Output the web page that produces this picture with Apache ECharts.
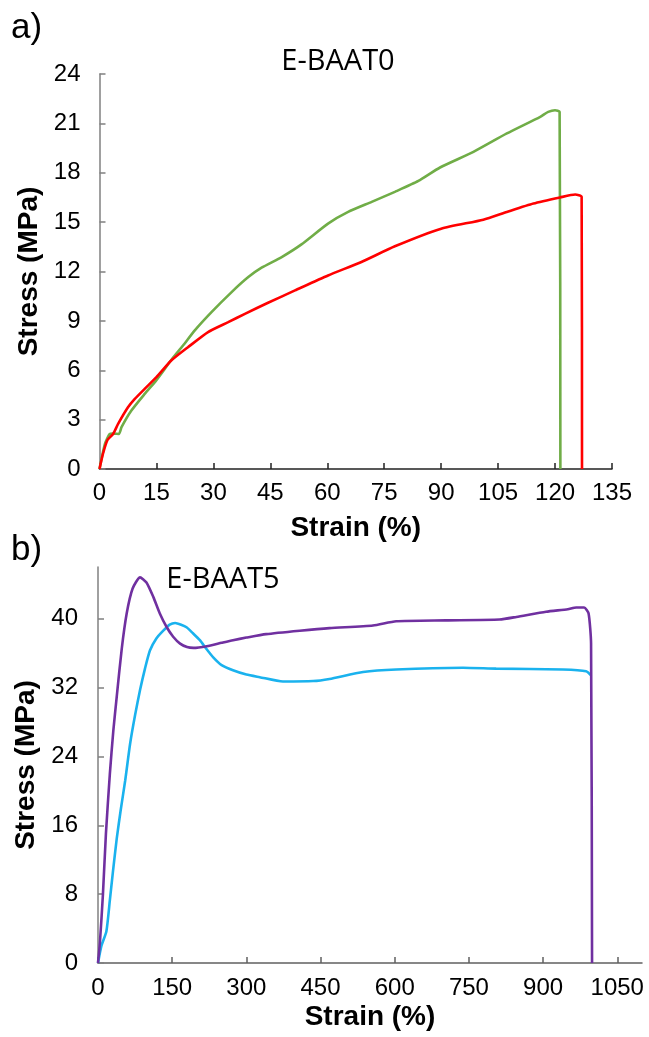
<!DOCTYPE html>
<html>
<head>
<meta charset="utf-8">
<script src="https://cdn.jsdelivr.net/npm/echarts@6/dist/echarts.min.js"></script>
<style>
  html, body { margin: 0; padding: 0; background: #fff; }
  #chart { width: 649px; height: 1037px; }
</style>
</head>
<body>
<div id="chart"></div>
<script>
// Panel a) E-BAAT0 tensile curves
const a_greenStrain = [0, 1.4, 2.7, 3.5, 5.1, 5.8, 8.4, 11.9, 15, 19, 22, 25.1, 29.5, 34.8, 39.2, 42.7, 48, 53.2, 60.2, 65.5, 71.7, 77.8, 84, 89.7, 98.5, 107.3, 116.1, 118.2, 120, 121.2, 121.4];
const a_greenStress = [0, 1.5, 2.13, 2.15, 2.13, 2.54, 3.55, 4.56, 5.4, 6.65, 7.5, 8.42, 9.53, 10.75, 11.66, 12.23, 12.88, 13.65, 14.91, 15.62, 16.23, 16.84, 17.5, 18.32, 19.27, 20.39, 21.4, 21.7, 21.8, 21.7, 0];
const a_redStrain = [0, 0.9, 2.1, 3.6, 4.9, 7.5, 9.3, 11.9, 15, 18.9, 23.3, 28.6, 33.9, 38.3, 44.4, 51.5, 60.2, 69, 77.8, 90, 101.1, 107.3, 114.3, 121.3, 125.3, 127, 127.1];
const a_redStress = [0, 0.91, 1.76, 2.13, 2.74, 3.75, 4.26, 4.87, 5.58, 6.59, 7.4, 8.32, 8.92, 9.43, 10.1, 10.85, 11.76, 12.58, 13.53, 14.6, 15.15, 15.62, 16.13, 16.5, 16.68, 16.53, 0];

// Panel b) E-BAAT5 tensile curves
const b_purpleStrain = [0, 4, 10, 16, 24, 31, 38, 48, 58, 70, 85, 98, 112, 125, 139, 152, 166, 180, 193, 220, 250, 273, 300, 340, 408, 468, 556, 603, 704, 812, 846, 906, 950, 967, 983, 992, 997, 999];
const b_purpleStress = [0, 2.5, 8, 15, 22, 27, 31, 36.5, 40.6, 43.5, 44.8, 44.2, 42.5, 40.6, 39.0, 37.9, 37.1, 36.7, 36.6, 36.8, 37.2, 37.5, 37.8, 38.2, 38.6, 38.9, 39.2, 39.7, 39.8, 39.9, 40.2, 40.8, 41.1, 41.3, 41.3, 40.6, 37.1, 0];
const b_cyanStrain = [0, 7, 17, 24, 30, 38, 46, 55, 65, 75, 85, 95, 105, 118, 132, 145, 156, 168, 179, 192, 206, 219, 233, 250, 273, 300, 327, 374, 435, 468, 536, 603, 738, 805, 940, 987, 997];
const b_cyanStress = [0, 2.0, 3.7, 7.3, 10.5, 14.5, 17.8, 21.2, 25.5, 28.8, 31.7, 34.2, 36.3, 37.7, 38.6, 39.3, 39.5, 39.3, 39.0, 38.3, 37.5, 36.5, 35.5, 34.6, 34.0, 33.5, 33.2, 32.7, 32.75, 33.0, 33.8, 34.1, 34.3, 34.2, 34.1, 33.9, 33.4];

// Axis tick values
const a_xTicks = [0, 15, 30, 45, 60, 75, 90, 105, 120, 135];
const a_yTicks = [0, 3, 6, 9, 12, 15, 18, 21, 24];
const b_xTicks = [0, 150, 300, 450, 600, 750, 900, 1050];
const b_yTicks = [0, 8, 16, 24, 32, 40];

const zip = (xs, ys) => xs.map((x, i) => [x, ys[i]]);

const tickFont = { fontFamily: 'Liberation Sans, Arial, sans-serif', fontSize: 24, color: '#000' };
const nameFont = { fontFamily: 'Liberation Sans, Arial, sans-serif', fontSize: 28, fontWeight: 'bold', color: '#000' };
const plain = v => String(v);

function xAxisCfg(gridIndex, min, max, interval, ticks, lineColor, labelMargin, nameGap) {
  return {
    type: 'value', gridIndex, min, max, interval,
    name: 'Strain (%)', nameLocation: 'middle', nameGap,
    nameTextStyle: nameFont,
    axisLine: { show: true, onZero: false, lineStyle: { color: lineColor, width: 1.5 } },
    axisTick: { show: true, inside: true, length: 6, customValues: ticks, lineStyle: { color: lineColor, width: 1.5 } },
    axisLabel: Object.assign({ margin: labelMargin, customValues: ticks, formatter: plain }, tickFont),
    splitLine: { show: false }
  };
}
function yAxisCfg(gridIndex, min, max, interval, ticks, labelMargin, nameGap) {
  return {
    type: 'value', gridIndex, min, max, interval,
    name: 'Stress (MPa)', nameLocation: 'middle', nameGap, nameRotate: 90,
    nameTextStyle: nameFont,
    axisLine: { show: true, onZero: false, lineStyle: { color: '#808080', width: 1.5 } },
    axisTick: { show: true, inside: true, length: 6, customValues: ticks, lineStyle: { color: '#808080', width: 1.5 } },
    axisLabel: Object.assign({ margin: labelMargin, customValues: ticks, formatter: plain }, tickFont),
    splitLine: { show: false }
  };
}
function curve(name, xi, yi, xs, ys, color, z) {
  return {
    name, type: 'line', xAxisIndex: xi, yAxisIndex: yi, data: zip(xs, ys),
    showSymbol: false, smooth: 0.2,
    lineStyle: { color, width: 2.6 }, itemStyle: { color }, z
  };
}

const chart = echarts.init(document.getElementById('chart'), null, { renderer: 'canvas' });

const titleStyle = { fontFamily: 'Open Sans, sans-serif', fontSize: 29, fontWeight: 'normal', color: '#000' };

chart.setOption({
  backgroundColor: '#fff',
  animation: false,
  title: [
    { text: 'E-BAAT0', left: 333, top: 42, textAlign: 'center', textStyle: titleStyle },
    { text: 'E-BAAT5', left: 218, top: 560, textAlign: 'center', textStyle: titleStyle }
  ],
  graphic: [
    { type: 'text', left: 11, top: 11, style: { text: 'a)', font: '35px "Liberation Sans", Arial, sans-serif', fill: '#000' } },
    { type: 'text', left: 11, top: 533, style: { text: 'b)', font: '35px "Liberation Sans", Arial, sans-serif', fill: '#000' } }
  ],
  grid: [
    { left: 99.5, top: 74, width: 512.5, height: 395, containLabel: false },
    { left: 98, top: 567, width: 544, height: 396, containLabel: false }
  ],
  xAxis: [
    xAxisCfg(0, 0, 135, 15, a_xTicks, '#222', 12, 45),
    xAxisCfg(1, 0, 1100, 150, b_xTicks, '#606060', 13, 40)
  ],
  yAxis: [
    yAxisCfg(0, 0, 24, 3, a_yTicks, 19, 52),
    yAxisCfg(1, 0, 46, 8, b_yTicks, 20, 51)
  ],
  series: [
    curve('E-BAAT0 green', 0, 0, a_greenStrain, a_greenStress, '#70AD47', 2),
    curve('E-BAAT0 red', 0, 0, a_redStrain, a_redStress, '#FF0000', 3),
    curve('E-BAAT5 cyan', 1, 1, b_cyanStrain, b_cyanStress, '#1AB2EE', 2),
    curve('E-BAAT5 purple', 1, 1, b_purpleStrain, b_purpleStress, '#7030A0', 3)
  ]
});
</script>
</body>
</html>
